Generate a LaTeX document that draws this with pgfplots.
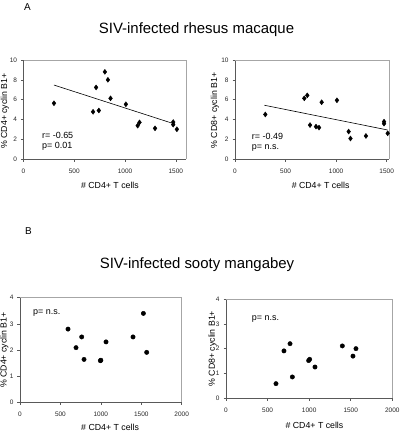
\documentclass[border=0pt]{standalone}
\usepackage{pgfplots}
\pgfplotsset{compat=1.18}
\usepackage{fontspec}
\setmainfont{Liberation Sans}

\pgfplotstableread{
x y
300 5.63
685 4.77
715 7.23
742 4.90
801 8.80
831 8.00
857 6.13
1008 5.53
1124 3.37
1142 3.70
1295 3.10
1474 3.73
1474 3.47
1510 3.00
}\rhesusCDfour

\pgfplotstableread{
x y
300 4.50
685 6.13
715 6.43
742 3.43
801 3.27
831 3.17
857 5.73
1008 5.93
1124 2.77
1142 2.07
1295 2.33
1474 3.77
1474 3.57
1510 2.60
}\rhesusCDeight

\pgfplotstableread{
x y
594 2.80
693 2.09
763 2.50
792 1.64
994 1.59
1000 1.61
1064 2.31
1398 2.50
1526 3.40
1567 1.91
}\sootyCDfour

\pgfplotstableread{
x y
601 0.59
697 1.91
770 2.20
798 0.86
994 1.52
1006 1.57
1070 1.26
1399 2.11
1527 1.70
1563 2.00
}\sootyCDeight

\pgfplotsset{
  panel/.style={
    scale only axis,
    axis x line*=bottom,
    axis y line*=left,
    axis line style={-, draw=black!65, line width=0.6bp},
    tick align=outside,
    major tick length=2.5bp,
    tick style={draw=black!65, line width=0.6bp},
    ticklabel style={font=\fontsize{6.5}{7.5}\selectfont, text=black!85},
    xticklabel style={yshift=-3.5bp},
    yticklabel style={xshift=-0.5bp},
    /pgf/number format/assume math mode=true,
    /pgf/number format/1000 sep={},
    label style={font=\fontsize{8.8}{10}\selectfont},
    ymin=0, xmin=0,
    clip=false,
  },
}

\begin{document}
\begin{tikzpicture}
\path[use as bounding box] (0,0) rectangle (400bp,-431bp);

\node[font=\fontsize{10}{12}\selectfont, anchor=west] at (20.5bp,-7.5bp) {A};
\node[font=\fontsize{15}{18}\selectfont] at (196.5bp,-30bp) {SIV-infected rhesus macaque};
\node[font=\fontsize{10}{12}\selectfont, anchor=west] at (21.5bp,-231bp) {B};
\node[font=\fontsize{15}{18}\selectfont] at (197bp,-265bp) {SIV-infected sooty mangabey};

% top-left
\begin{axis}[panel,
  at={(23.5bp,-159bp)}, anchor=south west,
  width=162.5bp, height=99bp,
  xmax=1600, ymax=10,
  xtick={0,500,1000,1500}, ytick={0,2,4,6,8,10},
  xlabel={\# CD4+ T cells}, ylabel={\% CD4+ cyclin B1+},
  xlabel style={at={(rel axis cs:0.532,-0.268)}, anchor=center},
  ylabel style={at={(rel axis cs:-0.114,0.485)}, anchor=center},
]
\draw[black!35, line width=0.6bp] (rel axis cs:0,1) -- (rel axis cs:1,1) -- (rel axis cs:1,0);
\addplot[only marks, mark=diamond*, mark size=2.5bp, black] table {\rhesusCDfour};
\addplot[black, line width=0.6bp, no marks] coordinates {(300,7.47) (1490,3.53)};
\node[anchor=west, inner sep=0pt, font=\fontsize{9}{10}\selectfont] at (axis cs:181,2.35) {r= -0.65};
\node[anchor=west, inner sep=0pt, font=\fontsize{9}{10}\selectfont] at (axis cs:181,1.3) {p= 0.01};
\end{axis}

% top-right
\begin{axis}[panel,
  at={(235bp,-159bp)}, anchor=south west,
  width=154bp, height=99bp,
  xmax=1523, ymax=10,
  xtick={0,500,1000,1500}, ytick={0,2,4,6,8,10},
  xlabel={\# CD4+ T cells}, ylabel={\% CD8+ cyclin B1+},
  xlabel style={at={(rel axis cs:0.556,-0.268)}, anchor=center},
  ylabel style={at={(rel axis cs:-0.130,0.49)}, anchor=center},
]
\draw[black!35, line width=0.6bp] (rel axis cs:0,1) -- (rel axis cs:1,1) -- (rel axis cs:1,0);
\addplot[only marks, mark=diamond*, mark size=2.5bp, black] table {\rhesusCDeight};
\addplot[black, line width=0.6bp, no marks] coordinates {(290,5.43) (1510,2.93)};
\node[anchor=west, inner sep=0pt, font=\fontsize{9}{10}\selectfont] at (axis cs:165,2.25) {r= -0.49};
\node[anchor=west, inner sep=0pt, font=\fontsize{9}{10}\selectfont] at (axis cs:165,1.15) {p= n.s.};
\end{axis}

% bottom-left
\begin{axis}[panel,
  at={(20bp,-402.3bp)}, anchor=south west,
  width=161.7bp, height=104.6bp,
  xmax=2000, ymax=4,
  xtick={0,500,1000,1500,2000}, ytick={0,1,2,3,4},
  xlabel={\# CD4+ T cells}, ylabel={\% CD4+ cyclin B1+},
  xlabel style={at={(rel axis cs:0.557,-0.236)}, anchor=center},
  ylabel style={at={(rel axis cs:-0.096,0.5)}, anchor=center},
]
\draw[black!35, line width=0.6bp] (rel axis cs:0,1) -- (rel axis cs:1,1) -- (rel axis cs:1,0);
\addplot[only marks, mark=*, mark size=2.2bp, black] table {\sootyCDfour};
\node[anchor=west, inner sep=0pt, font=\fontsize{9}{10}\selectfont] at (axis cs:160,3.43) {p= n.s.};
\end{axis}

% bottom-right
\begin{axis}[panel,
  at={(226bp,-398.3bp)}, anchor=south west,
  width=166.3bp, height=99.3bp,
  xmax=2000, ymax=4,
  xtick={0,500,1000,1500,2000}, ytick={0,1,2,3,4},
  xlabel={\# CD4+ T cells}, ylabel={\% CD8+ cyclin B1+},
  xlabel style={at={(rel axis cs:0.532,-0.272)}, anchor=center},
  ylabel style={at={(rel axis cs:-0.081,0.5)}, anchor=center},
]
\draw[black!35, line width=0.6bp] (rel axis cs:0,1) -- (rel axis cs:1,1) -- (rel axis cs:1,0);
\addplot[only marks, mark=*, mark size=2.2bp, black] table {\sootyCDeight};
\node[anchor=west, inner sep=0pt, font=\fontsize{9}{10}\selectfont] at (axis cs:309,3.21) {p= n.s.};
\end{axis}
\end{tikzpicture}
\end{document}
